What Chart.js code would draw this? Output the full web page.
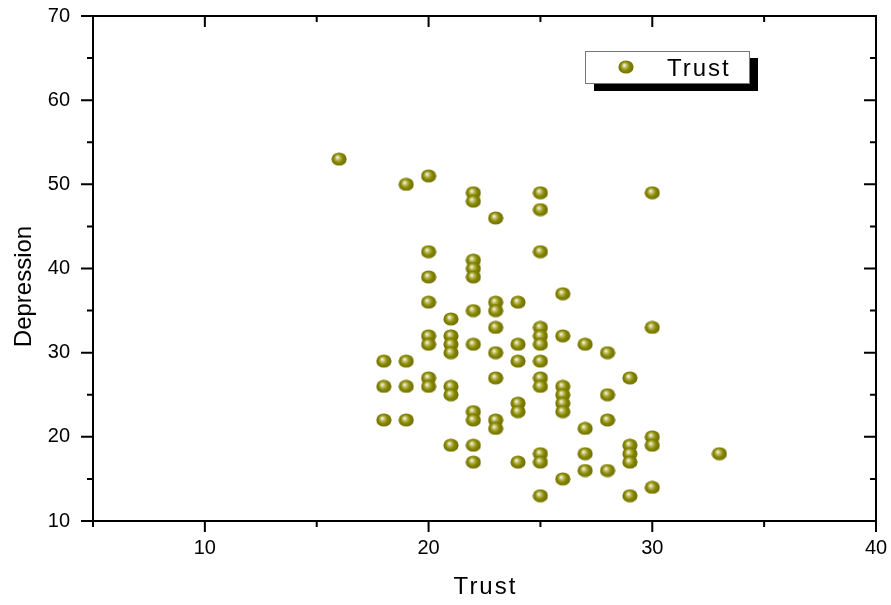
<!DOCTYPE html>
<html>
<head>
<meta charset="utf-8">
<script src="https://cdn.jsdelivr.net/npm/chart.js@4.4.0/dist/chart.umd.min.js"></script>
<style>
html,body{margin:0;padding:0;background:#fff;}
canvas{display:block;}
</style>
</head>
<body>
<canvas id="c" width="891" height="605"></canvas>
<script>
// ---- data ----
const seriesName = 'Trust';
const trustValues = [
  16,
  18,18,18,
  19,19,19,19,
  20,20,20,20,20,20,20,20,
  21,21,21,21,21,21,21,
  22,22,22,22,22,22,22,22,22,22,22,
  23,23,23,23,23,23,23,23,
  24,24,24,24,24,24,
  25,25,25,25,25,25,25,25,25,25,25,25,
  26,26,26,26,26,26,26,
  27,27,27,27,
  28,28,28,28,
  29,29,29,29,29,
  30,30,30,30,30,
  33
];
const depressionValues = [
  53,
  29,26,22,
  50,29,26,22,
  51,42,39,36,32,31,27,26,
  34,32,31,30,26,25,19,
  49,48,41,40,39,35,31,23,22,19,17,
  46,36,35,33,30,27,22,21,
  36,31,29,24,23,17,
  49,47,42,33,32,31,29,27,26,18,17,13,
  37,32,26,25,24,23,15,
  31,21,18,16,
  30,25,22,16,
  27,19,18,17,13,
  49,33,20,19,14,
  18
];
const xTickValues = [10, 20, 30, 40];
const yTickValues = [10, 20, 30, 40, 50, 60, 70];
const xRange = [5, 40];
const yRange = [10, 70];
const xMinorStep = 5;
const yMinorStep = 5;
const xTitle = 'Trust';
const yTitle = 'Depression';

const points = trustValues.map((v, i) => ({x: v, y: depressionValues[i]}));

const FONT = "'Liberation Sans', Arial, sans-serif";
Chart.defaults.font.family = FONT;
Chart.defaults.color = '#000';

function makeBall() {
  const c = document.createElement('canvas');
  c.width = 16; c.height = 14;
  const g = c.getContext('2d');
  const grd = g.createRadialGradient(6.2, 5.2, 0.3, 8, 7, 8.2);
  grd.addColorStop(0, '#f6f6e4');
  grd.addColorStop(0.28, '#b4b450');
  grd.addColorStop(0.55, '#858500');
  grd.addColorStop(1, '#6a6a00');
  g.fillStyle = grd;
  g.beginPath();
  g.ellipse(8, 7, 7.6, 6.6, 0, 0, Math.PI * 2);
  g.fill();
  return c;
}
const ball = makeBall();

const framePlugin = {
  id: 'frame',
  beforeDatasetsDraw(chart) {
    const {ctx, chartArea: a, scales: {x, y}} = chart;
    ctx.save();
    ctx.strokeStyle = '#000';
    ctx.lineWidth = 2;
    ctx.strokeRect(a.left, a.top, a.right - a.left, a.bottom - a.top);
    ctx.beginPath();
    for (let v = xRange[0]; v <= xRange[1]; v += xMinorStep) {
      const px = x.getPixelForValue(v);
      const L = (v % 10 === 0) ? 11 : 6;
      ctx.moveTo(px, a.bottom); ctx.lineTo(px, a.bottom + L);
      ctx.moveTo(px, a.top); ctx.lineTo(px, a.top + L);
    }
    for (let v = yRange[0]; v <= yRange[1]; v += yMinorStep) {
      const py = y.getPixelForValue(v);
      const L = (v % 10 === 0) ? 12 : 6;
      ctx.moveTo(a.left, py); ctx.lineTo(a.left - L, py);
      ctx.moveTo(a.right, py); ctx.lineTo(a.right - L, py);
    }
    ctx.stroke();

    // axis titles
    ctx.fillStyle = '#000';
    ctx.textAlign = 'center';
    ctx.textBaseline = 'alphabetic';
    ctx.font = '24px ' + FONT;
    if ('letterSpacing' in ctx) ctx.letterSpacing = '2px';
    ctx.fillText(xTitle, (a.left + a.right) / 2 + 1, a.bottom + 73);
    if ('letterSpacing' in ctx) ctx.letterSpacing = '0px';
    ctx.save();
    ctx.translate(a.left - 62, (a.top + a.bottom) / 2 + 18);
    ctx.rotate(-Math.PI / 2);
    ctx.font = '24px ' + FONT;
    ctx.fillText(yTitle, 0, 0);
    ctx.restore();
    ctx.restore();
  }
};

const legendPlugin = {
  id: 'boxLegend',
  afterDraw(chart) {
    const {ctx, chartArea: a} = chart;
    const bx = a.left + 492, by = a.top + 35, bw = 164, bh = 32;
    ctx.save();
    ctx.fillStyle = '#000';
    ctx.fillRect(bx + 9, by + 7, bw, bh + 1);
    ctx.fillStyle = '#fff';
    ctx.fillRect(bx, by, bw, bh);
    ctx.strokeStyle = '#777';
    ctx.lineWidth = 1;
    ctx.strokeRect(bx + 0.5, by + 0.5, bw, bh);
    ctx.drawImage(ball, bx + 33, by + 9);
    ctx.fillStyle = '#000';
    ctx.font = '24px ' + FONT;
    if ('letterSpacing' in ctx) ctx.letterSpacing = '2px';
    ctx.textBaseline = 'alphabetic';
    ctx.textAlign = 'left';
    ctx.fillText(seriesName, bx + 82, by + 25);
    ctx.restore();
  }
};

new Chart(document.getElementById('c'), {
  type: 'scatter',
  data: {
    datasets: [{
      label: seriesName,
      data: points,
      pointStyle: ball,
      pointRadius: 7,
      pointHoverRadius: 7
    }]
  },
  options: {
    responsive: false,
    animation: false,
    events: [],
    layout: {padding: {top: 16, right: 15, left: 0, bottom: 0}},
    plugins: {legend: {display: false}, tooltip: {enabled: false}},
    scales: {
      x: {
        type: 'linear',
        min: xRange[0], max: xRange[1],
        afterBuildTicks: s => { s.ticks = xTickValues.map(v => ({value: v})); },
        afterFit: s => { s.height = 84; s.paddingLeft = 0; s.paddingRight = 0; },
        grid: {display: false, drawTicks: false},
        border: {display: false},
        ticks: {font: {size: 20}, padding: 15, color: '#000', maxRotation: 0},
        title: {display: false}
      },
      y: {
        type: 'linear',
        min: yRange[0], max: yRange[1],
        afterBuildTicks: s => { s.ticks = yTickValues.map(v => ({value: v})); },
        afterFit: s => { s.width = 93; s.paddingTop = 0; s.paddingBottom = 0; },
        grid: {display: false, drawTicks: false},
        border: {display: false},
        ticks: {font: {size: 20}, padding: 23, color: '#000'},
        title: {display: false}
      }
    }
  },
  plugins: [framePlugin, legendPlugin]
});
</script>
</body>
</html>
